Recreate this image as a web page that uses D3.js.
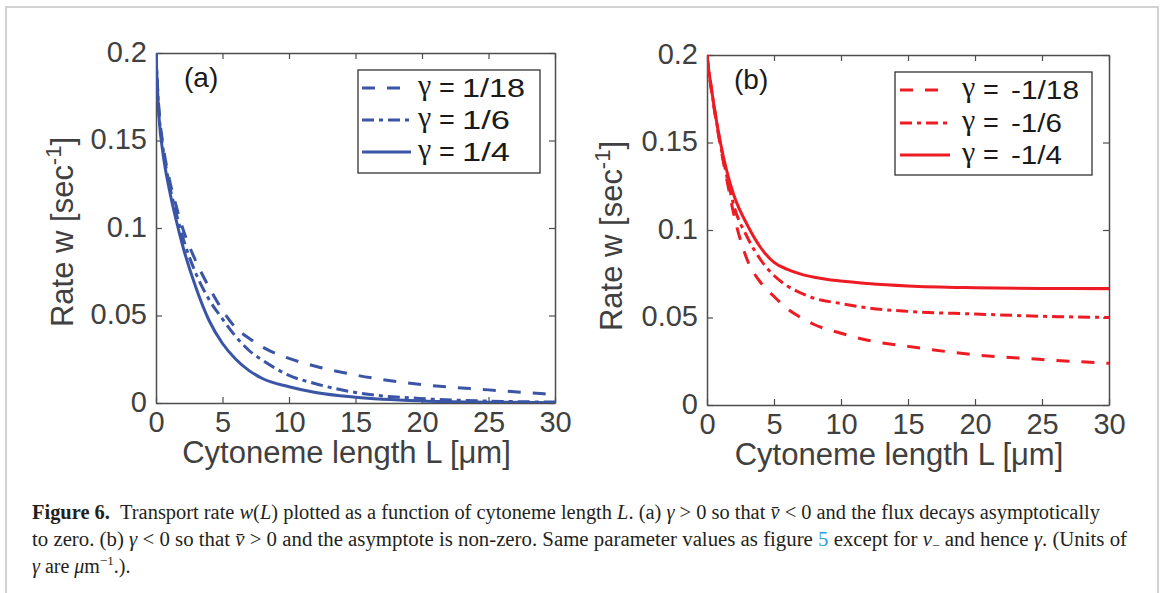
<!DOCTYPE html>
<html>
<head>
<meta charset="utf-8">
<script src="https://cdn.jsdelivr.net/npm/d3@7"></script>
<style>
  html, body { margin: 0; padding: 0; background: #ffffff; }
  svg { display: block; }
</style>
</head>
<body>
<svg id="fig" width="1165" height="593"></svg>
<script>
// ---------------- DATA ----------------
const lengths = [0, 0.1, 0.25, 0.5, 1, 1.5, 2, 3, 4, 5, 6, 7, 8, 10, 12, 15, 20, 25, 30];

// panel (a): gamma > 0
const wPos18 = [0.2, 0.183, 0.165, 0.149, 0.128, 0.113, 0.100, 0.081, 0.066, 0.053, 0.043, 0.037, 0.032, 0.0255, 0.021, 0.016, 0.0105, 0.0075, 0.0048];
const wPos6  = [0.2, 0.182, 0.163, 0.147, 0.125, 0.109, 0.095, 0.074, 0.059, 0.048, 0.038, 0.030, 0.0245, 0.0158, 0.011, 0.006, 0.0025, 0.0011, 0.0005];
const wPos4  = [0.2, 0.181, 0.161, 0.144, 0.122, 0.105, 0.090, 0.066, 0.047, 0.034, 0.025, 0.0185, 0.014, 0.0093, 0.006, 0.0033, 0.0012, 0.0005, 0.0002];

// panel (b): gamma < 0
const wNeg18 = [0.2, 0.193, 0.184, 0.171, 0.148, 0.128, 0.109, 0.083, 0.070, 0.062, 0.055, 0.050, 0.046, 0.041, 0.037, 0.0335, 0.0287, 0.026, 0.0238];
const wNeg6  = [0.2, 0.193, 0.185, 0.172, 0.149, 0.130, 0.114, 0.096, 0.083, 0.074, 0.068, 0.064, 0.061, 0.058, 0.0555, 0.0535, 0.052, 0.0507, 0.050];
const wNeg4  = [0.2, 0.193, 0.185, 0.172, 0.150, 0.133, 0.120, 0.103, 0.090, 0.0815, 0.0775, 0.0748, 0.0730, 0.0708, 0.0694, 0.068, 0.067, 0.0666, 0.0665];

const gammaA = ["1/18", "1/6", "1/4"];
const gammaB = ["-1/18", "-1/6", "-1/4"];

const xTicks = [0, 5, 10, 15, 20, 25, 30];
const xTickLabels = ["0", "5", "10", "15", "20", "25", "30"];
const yTicks = [0, 0.05, 0.1, 0.15, 0.2];
const yTickLabels = ["0", "0.05", "0.1", "0.15", "0.2"];

// ---------------- STYLE / LAYOUT ----------------
const FONT = "'Liberation Sans', Arial, Helvetica, sans-serif";
const SERIF = "'Liberation Serif', 'Times New Roman', serif";
const GRAY = "#404040";
const FRAME = "#4d4d4d";
const BLUE = "#3a55a6";
const RED = "#ed1c24";
const dashes = ["13,12", "12,5,4,5", null];

const svg = d3.select("#fig");

// outer light border
svg.append("rect").attr("x", 6).attr("y", 7).attr("width", 1152).attr("height", 600)
  .attr("fill", "none").attr("stroke", "#c4c4c4").attr("stroke-width", 1.5);

const panels = [
  { id: "a", tag: "(a)", x0: 156, x1: 555, y0: 53, y1: 403, color: BLUE,
    series: [wPos18, wPos6, wPos4], nums: gammaA,
    legend: { x: 358, y: 70, w: 182, h: 103, lineX0: 362, lineX1: 411, textX: 419, numDx: 43,
              numW: [63, 48, 48], rows: [88, 120, 152] },
    yLabelX: 73, yLabelY: 232, xLabelY: 463, tagX: 184, tagY: 87 },
  { id: "b", tag: "(b)", x0: 707, x1: 1109, y0: 55, y1: 405, color: RED,
    series: [wNeg18, wNeg6, wNeg4], nums: gammaB,
    legend: { x: 895, y: 72, w: 197, h: 103, lineX0: 900, lineX1: 950, textX: 963, numDx: 48,
              numW: [68, 51, 51], rows: [90, 123, 155] },
    yLabelX: 622, yLabelY: 236, xLabelY: 465, tagX: 734, tagY: 89 }
];

panels.forEach(p => {
  const x = d3.scaleLinear().domain([0, 30]).range([p.x0, p.x1]);
  const y = d3.scaleLinear().domain([0, 0.2]).range([p.y1, p.y0]);
  const g = svg.append("g");

  const clipId = "clip-" + p.id;
  svg.append("defs").append("clipPath").attr("id", clipId)
    .append("rect").attr("x", p.x0).attr("y", p.y0 - 2).attr("width", p.x1 - p.x0).attr("height", p.y1 - p.y0 + 2);

  // axes (inward ticks on all four sides)
  const bottom = g.append("g").attr("transform", `translate(0,${p.y1})`)
    .call(d3.axisBottom(x).tickValues(xTicks).tickFormat((d, i) => xTickLabels[i])
      .tickSizeInner(-6).tickSizeOuter(0).tickPadding(8));
  const top = g.append("g").attr("transform", `translate(0,${p.y0})`)
    .call(d3.axisTop(x).tickValues(xTicks).tickFormat("").tickSizeInner(-6).tickSizeOuter(0));
  const left = g.append("g").attr("transform", `translate(${p.x0},0)`)
    .call(d3.axisLeft(y).tickValues(yTicks).tickFormat((d, i) => yTickLabels[i])
      .tickSizeInner(-6).tickSizeOuter(0).tickPadding(9));
  const right = g.append("g").attr("transform", `translate(${p.x1},0)`)
    .call(d3.axisRight(y).tickValues(yTicks).tickFormat("").tickSizeInner(-6).tickSizeOuter(0));

  [bottom, top, left, right].forEach(a => {
    a.select(".domain").attr("stroke", FRAME).attr("stroke-width", 1.5);
    a.selectAll(".tick line").attr("stroke", FRAME).attr("stroke-width", 1.2);
    a.selectAll("text").attr("font-family", FONT).attr("font-size", 29).attr("fill", GRAY);
  });
  left.selectAll(".tick text").attr("dy", "0.28em");

  // curves
  const line = d3.line().x((d, i) => x(lengths[i])).y(d => y(d)).curve(d3.curveMonotoneX);
  const curves = g.append("g").attr("clip-path", `url(#${clipId})`);
  p.series.forEach((s, k) => {
    curves.append("path").datum(s).attr("d", line)
      .attr("fill", "none").attr("stroke", p.color).attr("stroke-width", 3)
      .attr("stroke-dasharray", dashes[k]);
  });

  // legend
  const L = p.legend;
  g.append("rect").attr("x", L.x).attr("y", L.y).attr("width", L.w).attr("height", L.h)
    .attr("fill", "#fff").attr("stroke", "#333").attr("stroke-width", 1.3);
  p.nums.forEach((num, k) => {
    const ry = L.rows[k];
    g.append("line").attr("x1", L.lineX0).attr("x2", L.lineX1).attr("y1", ry).attr("y2", ry)
      .attr("stroke", p.color).attr("stroke-width", 3).attr("stroke-dasharray", dashes[k]);
    g.append("text").attr("x", L.textX - 1).attr("y", ry + 7)
      .attr("font-family", SERIF).attr("font-size", 30).attr("fill", "#1a1a1a").text("γ");
    g.append("text").attr("x", L.textX + 20).attr("y", ry + 9)
      .attr("font-family", FONT).attr("font-size", 27).attr("fill", "#1a1a1a").text("=");
    g.append("text").attr("x", L.numDx + L.textX).attr("y", ry + 9)
      .attr("font-family", FONT).attr("font-size", 26).attr("fill", "#1a1a1a")
      .attr("textLength", L.numW[k]).attr("lengthAdjust", "spacingAndGlyphs").text(num);
  });

  // panel tag
  g.append("text").attr("x", p.tagX).attr("y", p.tagY)
    .attr("font-family", FONT).attr("font-size", 28).attr("fill", "#1a1a1a").text(p.tag);

  // axis labels
  g.append("text").attr("x", (p.x0 + p.x1) / 2 - 9).attr("y", p.xLabelY)
    .attr("text-anchor", "middle").attr("font-family", FONT).attr("font-size", 31).attr("fill", GRAY)
    .text("Cytoneme length L [μm]");
  const yl = g.append("text")
    .attr("transform", `translate(${p.yLabelX},${p.yLabelY}) rotate(-90)`)
    .attr("text-anchor", "middle").attr("font-family", FONT).attr("font-size", 31).attr("fill", GRAY);
  yl.append("tspan").text("Rate w [sec");
  yl.append("tspan").attr("font-size", 22).attr("dy", -12).text("-1");
  yl.append("tspan").attr("dy", 12).text("]");
});

// ---------------- CAPTION ----------------
const cap = svg.append("g").attr("font-family", SERIF).attr("font-size", 20).attr("fill", "#231f20");
function capLine(yb, width, adjust, parts) {
  const t = cap.append("text").attr("x", 32).attr("y", yb);
  if (width) t.attr("textLength", width).attr("lengthAdjust", adjust);
  parts.forEach(pt => {
    const s = t.append("tspan").text(pt.t);
    if (pt.b) s.attr("font-weight", "bold");
    if (pt.i) s.attr("font-style", "italic");
    if (pt.c) s.attr("fill", pt.c);
    if (pt.dy) s.attr("dy", pt.dy);
    if (pt.fs) s.attr("font-size", pt.fs);
  });
}
capLine(519, 1068, "spacingAndGlyphs", [
  { t: "Figure 6.", b: 1 }, { t: "\u2002Transport rate " }, { t: "w", i: 1 }, { t: "(" }, { t: "L", i: 1 },
  { t: ") plotted as a function of cytoneme length " }, { t: "L", i: 1 }, { t: ". (a) " }, { t: "γ", i: 1 },
  { t: " > 0 so that " }, { t: "v\u0304", i: 1 }, { t: " < 0 and the flux decays asymptotically" }
]);
capLine(546, 1095, "spacingAndGlyphs", [
  { t: "to zero. (b) " }, { t: "γ", i: 1 }, { t: " < 0 so that " }, { t: "v\u0304", i: 1 },
  { t: " > 0 and the asymptote is non-zero. Same parameter values as figure " }, { t: "5", c: "#2b9fd8" },
  { t: " except for " }, { t: "v", i: 1 }, { t: "\u2212", fs: 13, dy: 4 }, { t: " and hence ", dy: -4 }, { t: "γ", i: 1 },
  { t: ". (Units of" }
]);
capLine(573, null, null, [
  { t: "γ", i: 1 }, { t: " are " }, { t: "μ", i: 1 }, { t: "m" }, { t: "\u22121", fs: 13, dy: -8 }, { t: ".).", dy: 8 }
]);
</script>
</body>
</html>
